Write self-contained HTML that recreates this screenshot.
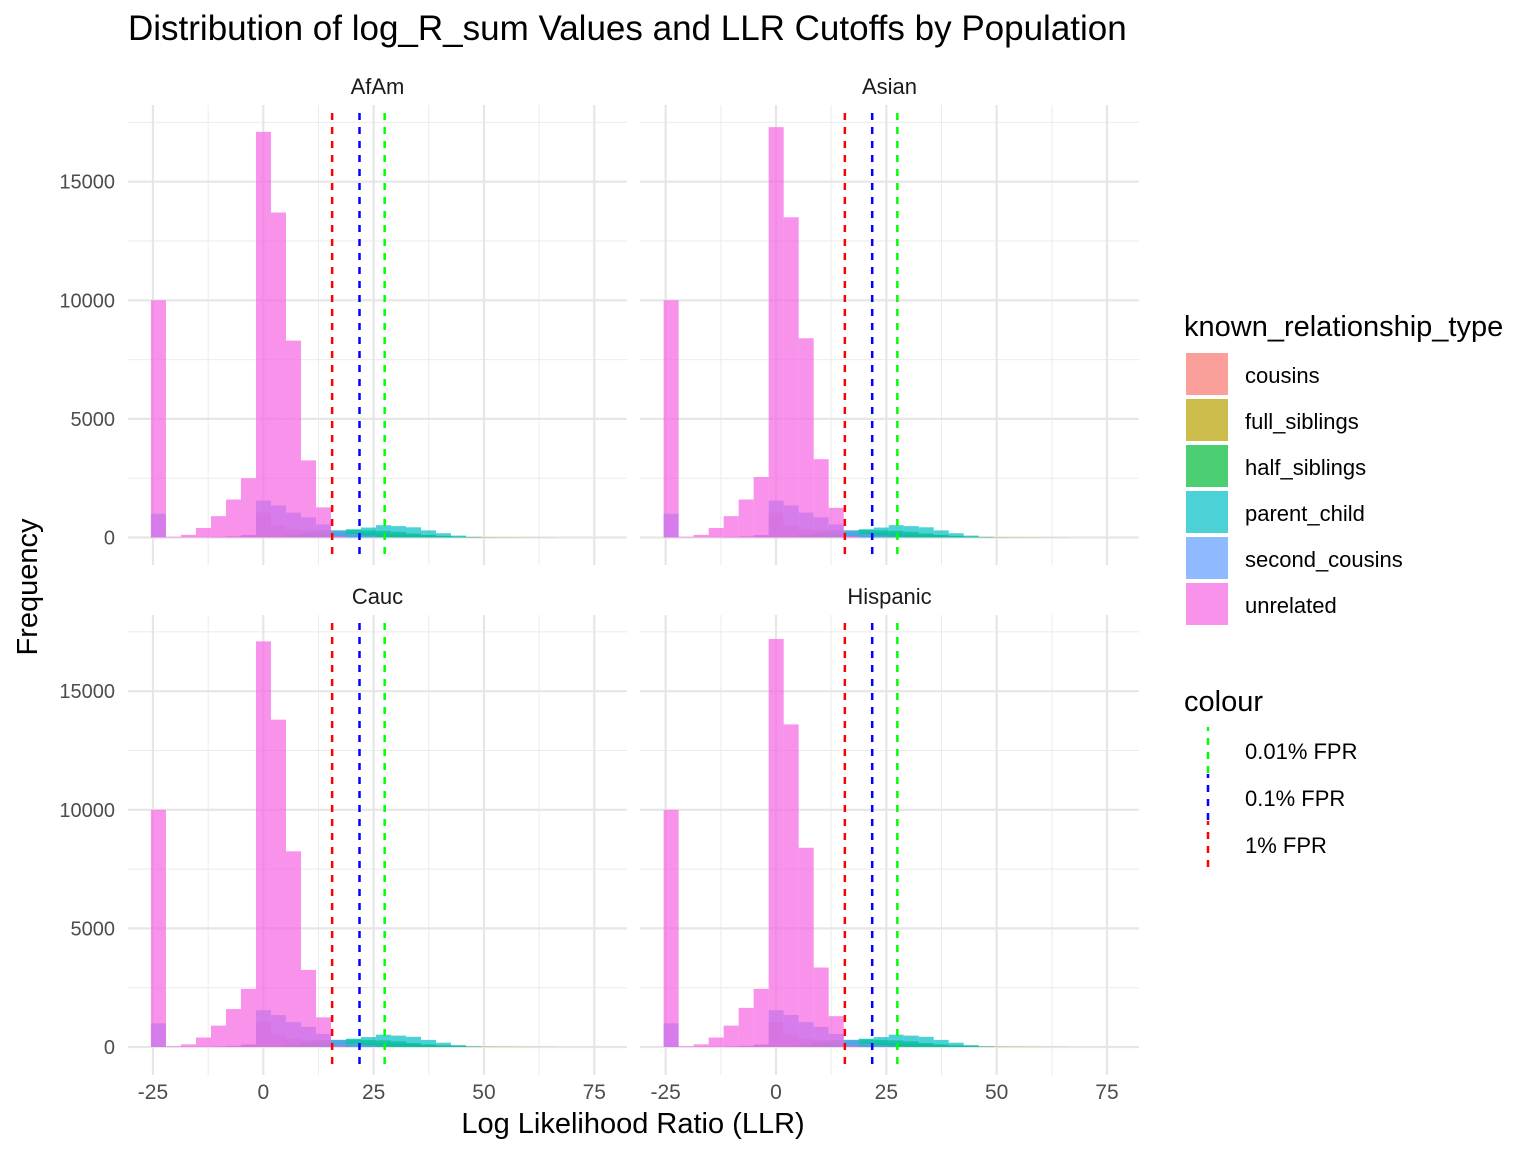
<!DOCTYPE html>
<html><head><meta charset="utf-8"><style>
body{margin:0;background:#fff;}
svg{display:block;font-family:"Liberation Sans",Arial,sans-serif;}
</style></head><body>
<svg id="chart" width="1536" height="1152" viewBox="0 0 1536 1152" xmlns="http://www.w3.org/2000/svg">
<rect width="1536" height="1152" fill="#fff"/>
<text x="128" y="40" font-size="35" fill="#000">Distribution of log_R_sum Values and LLR Cutoffs by Population</text>
<text x="633" y="1133" font-size="29" text-anchor="middle" fill="#000">Log Likelihood Ratio (LLR)</text>
<text transform="translate(37,587) rotate(-90)" font-size="29" text-anchor="middle" fill="#000">Frequency</text>
<g id="panels"></g>
<g id="legend"></g>
</svg>
<script>
const populations = ["AfAm","Asian","Cauc","Hispanic"];
const binStart = -25.46;
const binWidth = 3.4;
const seriesNames = ["cousins","full_siblings","half_siblings","parent_child","second_cousins","unrelated"];
const seriesColors = ["#F8766D","#B79F00","#00BA38","#00BFC4","#619CFF","#F564E3"];
// counts per bin (28 bins)
const cousins        = [0,0,0,0,0,0,100,1050,500,350,300,150,80,30,0,0,0,0,0,0,0,0,0,0,0,0,0,0];
const fullSiblings   = [0,0,0,0,0,0,0,0,0,0,0,50,200,200,180,160,140,120,100,70,50,30,20,15,10,8,5,0];
const halfSiblings   = [0,0,0,0,0,0,0,0,0,100,200,300,300,320,300,280,240,170,110,60,20,10,0,0,0,0,0,0];
const parentChild    = [0,0,0,0,0,0,0,0,0,0,0,100,250,350,420,520,480,430,300,180,80,20,0,0,0,0,0,0];
const secondCousins  = [1000,0,0,0,20,50,100,1550,1350,1050,850,550,300,150,80,30,10,0,0,0,0,0,0,0,0,0,0,0];
const unrelatedAfAm  = [10000,30,110,400,900,1600,2500,17100,13700,8300,3250,1270,60,0,0,0,0,0,0,0,0,0,0,0,0,0,0,0];
const unrelatedAsian = [10000,30,110,400,900,1600,2550,17300,13500,8400,3300,1250,60,0,0,0,0,0,0,0,0,0,0,0,0,0,0,0];
const unrelatedCauc  = [10000,30,110,400,900,1600,2450,17100,13800,8250,3250,1250,60,0,0,0,0,0,0,0,0,0,0,0,0,0,0,0];
const unrelatedHisp  = [10000,30,110,400,900,1650,2450,17200,13600,8400,3350,1300,60,0,0,0,0,0,0,0,0,0,0,0,0,0,0,0];
const cutoffNames = ["1% FPR","0.1% FPR","0.01% FPR"];
const cutoffColors = ["#FF0000","#0000FF","#00FF00"];
const cutoffValues = [15.6,21.8,27.5];
const xTicks = [-25,0,25,50,75];
const yTicks = [0,5000,10000,15000];

const NS="http://www.w3.org/2000/svg";
function mk(tag, attrs, parent){const e=document.createElementNS(NS,tag);for(const k in attrs)e.setAttribute(k,attrs[k]);if(parent)parent.appendChild(e);return e;}
const unrel=[unrelatedAfAm,unrelatedAsian,unrelatedCauc,unrelatedHisp];
const panelsG=document.getElementById('panels');
const layout=[{x0:128,x1:627,zx:263.3,y0:113,y1:557,zy:537.5,col:0,row:0},
{x0:640,x1:1139,zx:776,y0:113,y1:557,zy:537.5,col:1,row:0},
{x0:128,x1:627,zx:263.3,y0:623,y1:1067,zy:1047,col:0,row:1},
{x0:640,x1:1139,zx:776,y0:623,y1:1067,zy:1047,col:1,row:1}];
const pxU=4.413, pxC=0.02372;
populations.forEach((pop,pi)=>{
  const L=layout[pi];
  const xs=v=>L.zx+v*pxU, ys=c=>L.zy-c*pxC;
  const g=mk('g',{},panelsG);
  
  
  [-12.5,12.5,37.5,62.5].forEach(v=>mk('line',{x1:xs(v),x2:xs(v),y1:L.y0-8,y2:L.y1+8,stroke:'#EBEBEB','stroke-width':1},g));
  [2500,7500,12500,17500].forEach(v=>mk('line',{x1:L.x0,x2:L.x1,y1:ys(v),y2:ys(v),stroke:'#EBEBEB','stroke-width':1},g));
  xTicks.forEach(v=>mk('line',{x1:xs(v),x2:xs(v),y1:L.y0-8,y2:L.y1+8,stroke:'#E6E6E6','stroke-width':2.2},g));
  yTicks.forEach(v=>mk('line',{x1:L.x0,x2:L.x1,y1:ys(v),y2:ys(v),stroke:'#E6E6E6','stroke-width':2.2},g));
  const st=mk('text',{x:(L.x0+L.x1)/2,y:L.y0-19,'font-size':22,'text-anchor':'middle',fill:'#1a1a1a'},g);
  st.textContent=pop;
  
  
  const data=[cousins,fullSiblings,halfSiblings,parentChild,secondCousins,unrel[pi]];
  data.forEach((arr,si)=>{
    arr.forEach((c,bi)=>{
      if(c<=0)return;
      const a=binStart+bi*binWidth;
      const r=mk('rect',{x:xs(a),y:ys(c),width:binWidth*pxU,height:c*pxC,fill:seriesColors[si],'fill-opacity':0.7},g);
      
      
    });
  });
  cutoffValues.forEach((v,ci)=>{
    const l=mk('line',{x1:xs(v),x2:xs(v),y1:L.y0,y2:L.y1,stroke:cutoffColors[ci],'stroke-width':2.5,'stroke-dasharray':'7,7'},g);
    
    
  });
  if(L.col===0){yTicks.forEach(v=>{const t=mk('text',{x:115,y:ys(v)+7,'font-size':20,'text-anchor':'end',fill:'#4d4d4d'},g);t.textContent=v;});}
  if(L.row===1){xTicks.forEach(v=>{const t=mk('text',{x:xs(v),y:1099,'font-size':21,'text-anchor':'middle',fill:'#4d4d4d'},g);t.textContent=v;});}
});
const lg=document.getElementById('legend');
let t=mk('text',{x:1184,y:336,'font-size':29,fill:'#000'},lg);t.textContent='known_relationship_type';
seriesNames.forEach((n,i)=>{
  const y=353+i*46;
  const r=mk('rect',{x:1186,y:y,width:42,height:42,fill:seriesColors[i],'fill-opacity':0.7},lg);
  
  
  const tx=mk('text',{x:1245,y:y+30,'font-size':22,fill:'#000'},lg);tx.textContent=n;
});
t=mk('text',{x:1184,y:711,'font-size':29,fill:'#000'},lg);t.textContent='colour';
const legOrder=[2,1,0];
legOrder.forEach((ci,i)=>{
  const y=727+i*47;
  const l=mk('line',{x1:1208,x2:1208,y1:y,y2:y+46,stroke:cutoffColors[ci],'stroke-width':2.5,'stroke-dasharray':'7,7','stroke-dashoffset':3},lg);
  
  
  const tx=mk('text',{x:1245,y:y+32,'font-size':22,fill:'#000'},lg);tx.textContent=cutoffNames[ci];
});
</script>
</body></html>
